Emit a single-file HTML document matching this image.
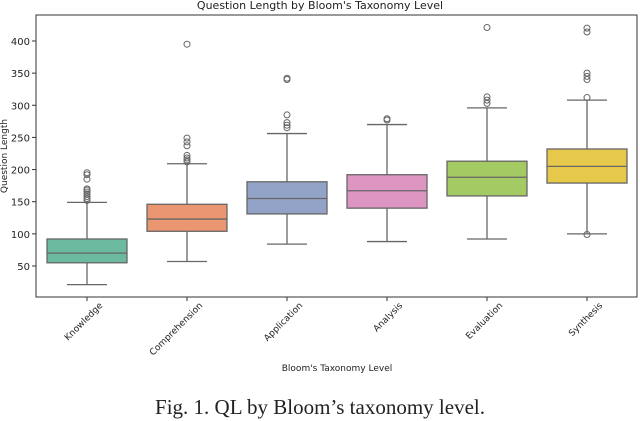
<!DOCTYPE html>
<html><head><meta charset="utf-8"><style>
body{margin:0;background:#fff;width:640px;height:421px;overflow:hidden}
svg{display:block}
text{font-family:"DejaVu Sans","Liberation Sans",sans-serif;fill:#222}
</style></head><body>
<svg id="c" width="640" height="421"></svg>
<script>
const categories=["Knowledge","Comprehension","Application","Analysis","Evaluation","Synthesis"];
const whiskerLow=[21,57,84,88,92,100];
const q1=[55,104,131,140,159,179];
const median=[70,123,155,167,188,205];
const q3=[92,146,181,192,213,232];
const whiskerHigh=[149,209,256,270,296,308];
const outliers=[[152,155,158,162,165,168,170,185,192,195],[212,215,218,222,237,243,249,395],[265,269,273,285,340,342],[277,279],[303,308,313,421],[99,312,340,345,350,414,420]];
const colors=["#6cbba0","#ea9670","#93a3c8","#dd95c2","#a4cb63","#e6c84a"];
const yTicks=[50,100,150,200,250,300,350,400];
const L=36,R=637,T=15,B=297;
const y=v=>266-(v-50)*0.6429;
const x=i=>87+i*100;
const svg=document.getElementById('c');const NS="http://www.w3.org/2000/svg";
function el(t,a,p){const e=document.createElementNS(NS,t);for(const k in a)e.setAttribute(k,a[k]);(p||svg).appendChild(e);return e;}
let t=el('text',{x:320,y:9,'text-anchor':'middle','font-size':11});t.textContent="Question Length by Bloom's Taxonomy Level";


yTicks.forEach(v=>{const g=el('g',{});


el('line',{x1:L-4,x2:L,y1:y(v),y2:y(v),stroke:'#333'},g);
const tx=el('text',{x:L-6,y:y(v)+4,'text-anchor':'end','font-size':10},g);tx.textContent=v;});
t=el('text',{x:0,y:0,'text-anchor':'middle','font-size':9,transform:`translate(7,${(T+B)/2}) rotate(-90)`});t.textContent="Question Length";


categories.forEach((c,i)=>{const g=el('g',{});


const cx=x(i),w=40,s='#666';
el('line',{x1:cx,x2:cx,y1:y(whiskerLow[i]),y2:y(q1[i]),stroke:s,'stroke-width':1.3},g);
el('line',{x1:cx,x2:cx,y1:y(q3[i]),y2:y(whiskerHigh[i]),stroke:s,'stroke-width':1.3},g);
el('line',{x1:cx-20,x2:cx+20,y1:y(whiskerLow[i]),y2:y(whiskerLow[i]),stroke:s,'stroke-width':1.3},g);
el('line',{x1:cx-20,x2:cx+20,y1:y(whiskerHigh[i]),y2:y(whiskerHigh[i]),stroke:s,'stroke-width':1.3},g);
el('rect',{x:cx-w,y:y(q3[i]),width:2*w,height:y(q1[i])-y(q3[i]),fill:colors[i],stroke:s,'stroke-width':1.3},g);
el('line',{x1:cx-w,x2:cx+w,y1:y(median[i]),y2:y(median[i]),stroke:s,'stroke-width':1.3},g);
outliers[i].forEach(o=>el('circle',{cx:cx,cy:y(o),r:3,fill:'none',stroke:s,'stroke-width':1},g));
el('line',{x1:cx,x2:cx,y1:B,y2:B+4,stroke:'#333'},g);
const tx=el('text',{x:0,y:0,'text-anchor':'end','font-size':9,transform:`translate(${cx+16},${B+9}) rotate(-45)`},g);tx.textContent=c;});
const fr=el('rect',{x:L,y:T,width:R-L,height:B-T,fill:'none',stroke:'#333','stroke-width':1});


t=el('text',{x:337,y:371,'text-anchor':'middle','font-size':9});t.textContent="Bloom's Taxonomy Level";


t=el('text',{x:320,y:414,'text-anchor':'middle','font-size':21,style:'font-family:"Liberation Serif",serif'});t.textContent="Fig. 1. QL by Bloom’s taxonomy level.";


</script></body></html>
